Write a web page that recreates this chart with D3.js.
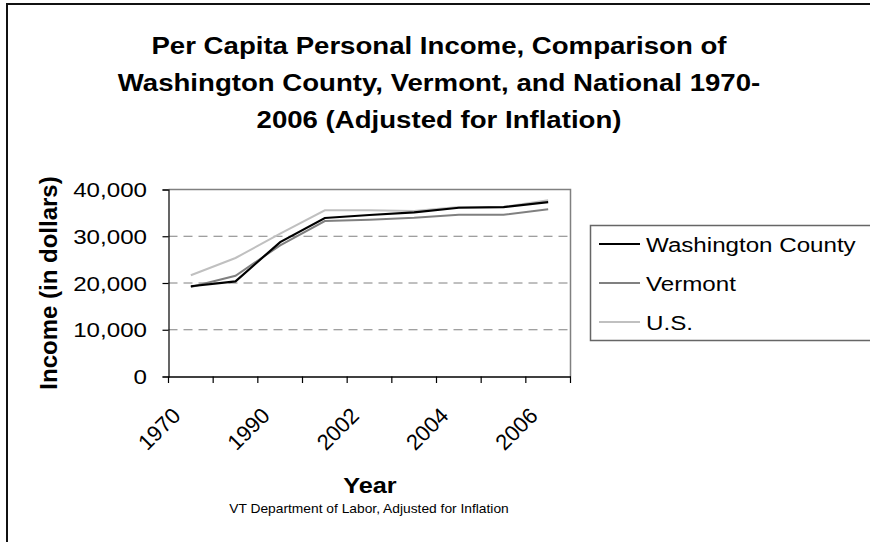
<!DOCTYPE html>
<html>
<head>
<meta charset="utf-8">
<script src="https://cdn.jsdelivr.net/npm/d3@7"></script>
<style>
  html, body { margin: 0; background: #fff; overflow: hidden; }
  svg { display: block; }
  text { font-family: "Liberation Sans", Arial, sans-serif; fill: #000; }
</style>
</head>
<body>
<svg id="chart" width="870" height="542"></svg>
<script>
// Data
var years = ["1970", "1980", "1990", "2000", "2002", "2003", "2004", "2005", "2006"];
var shownYears = ["1970", "1990", "2002", "2004", "2006"];
var washington = [19300, 20350, 28750, 33900, 34550, 35100, 36100, 36250, 37300];
var vermont = [19150, 21550, 28050, 33250, 33550, 33950, 34600, 34600, 35800];
var us = [21650, 25350, 30550, 35550, 35550, 35400, 36250, 36250, 37700];
var seriesNames = ["Washington County", "Vermont", "U.S."];
var seriesColors = ["#000000", "#808080", "#c0c0c0"];
var yTicks = [0, 10000, 20000, 30000, 40000];
var titleLines = ["Per Capita Personal Income, Comparison of",
                  "Washington County, Vermont, and National 1970-",
                  "2006 (Adjusted for Inflation)"];

var SX = 1.15; // the reference text is rendered a bit wide

var svg = d3.select("#chart");

// outer frame: only the top and left edges are inside the picture
svg.append("path")
    .attr("d", "M7,542V4H870")
    .attr("fill", "none")
    .attr("stroke", "#111")
    .attr("stroke-width", 2);

function wideText(g, x, y, str, size, weight, anchor) {
    return g.append("text")
        .attr("transform", "translate(" + x + "," + y + ") scale(" + SX + ",1)")
        .attr("text-anchor", anchor || "middle")
        .style("font-size", size + "px")
        .style("font-weight", weight || "normal")
        .text(str);
}

// title
titleLines.forEach(function(line, i) {
    wideText(svg, 439, 54 + i * 37, line, 24, "bold");
});

var x = d3.scaleBand().domain(years).range([168.5, 570.5]).padding(0);
var y = d3.scaleLinear().domain([0, 40000]).range([376.5, 189.5]);
var cx = function(d) { return x(d) + x.bandwidth() / 2; };

var plot = svg.append("g").attr("class", "plot");

// gridlines
plot.selectAll("line.grid")
    .data(yTicks.filter(function(t) { return t > 0 && t < 40000; }))
    .enter().append("line")
    .attr("class", "grid")
    .attr("x1", 168.5).attr("x2", 570.5)
    .attr("y1", function(d) { return y(d); })
    .attr("y2", function(d) { return y(d); })
    .attr("stroke", "#808080")
    .attr("stroke-width", 1)
    .attr("stroke-dasharray", "9,6");

// plot border, top + right
plot.append("path")
    .attr("d", "M168.5," + y(40000) + "H570.5V" + y(0))
    .attr("fill", "none")
    .attr("stroke", "#808080")
    .attr("stroke-width", 1.5);

// y axis
var yAxis = d3.axisLeft(y).tickValues(yTicks).tickSize(6).tickFormat("");
plot.append("g")
    .attr("transform", "translate(168.5,0)")
    .call(yAxis)
    .call(function(g) { g.selectAll("path, line").attr("stroke", "#000").attr("stroke-width", 1.2); });

yTicks.forEach(function(t) {
    wideText(svg, 147, y(t) + 7.5, d3.format(",")(t), 21, "normal", "end");
});

// x axis, ticks at band edges
var xAxis = d3.axisBottom(x).tickSize(0).tickFormat("");
plot.append("g")
    .attr("transform", "translate(0,376.5)")
    .call(xAxis)
    .call(function(g) { g.select("path").attr("stroke", "#000").attr("stroke-width", 1.5); });

plot.selectAll("line.xtick")
    .data(years.concat(["end"]))
    .enter().append("line")
    .attr("class", "xtick")
    .attr("x1", function(d, i) { return i < years.length ? x(d) : x.range()[1]; })
    .attr("x2", function(d, i) { return i < years.length ? x(d) : x.range()[1]; })
    .attr("y1", 376.5).attr("y2", 383)
    .attr("stroke", "#000")
    .attr("stroke-width", 1.2);

svg.selectAll("text.xlabel")
    .data(shownYears)
    .enter().append("text")
    .attr("class", "xlabel")
    .attr("transform", function(d) {
        return "translate(" + (cx(d) - 9) + ",417) rotate(-45)";
    })
    .attr("text-anchor", "end")
    .style("font-size", "22px")
    .text(function(d) { return d; });

// series lines, lightest first so black is on top
var line = d3.line()
    .x(function(d, i) { return cx(years[i]); })
    .y(function(d) { return y(d); });

var allSeries = [washington, vermont, us];
[2, 1, 0].forEach(function(k) {
    plot.append("path")
        .datum(allSeries[k])
        .attr("d", line)
        .attr("fill", "none")
        .attr("stroke", seriesColors[k])
        .attr("stroke-width", k == 0 ? 2.2 : 2);
});

// axis titles
svg.append("text")
    .attr("transform", "translate(57,283) rotate(-90)")
    .attr("text-anchor", "middle")
    .style("font-size", "24px")
    .style("font-weight", "bold")
    .text("Income (in dollars)");

wideText(svg, 370, 493, "Year", 22, "bold");
wideText(svg, 369, 513, "VT Department of Labor, Adjusted for Inflation", 12);

// legend box runs off the right edge
var legend = svg.append("g").attr("class", "legend");
legend.append("path")
    .attr("d", "M870,225.5H590.5V340.5H870")
    .attr("fill", "#fff")
    .attr("stroke", "#666")
    .attr("stroke-width", 1.5);

seriesNames.forEach(function(name, i) {
    var ry = 244 + i * 39;
    legend.append("line")
        .attr("x1", 599).attr("x2", 640)
        .attr("y1", ry).attr("y2", ry)
        .attr("stroke", seriesColors[i])
        .attr("stroke-width", 2);
    wideText(legend, 646, ry + 7.5, name, 21, "normal", "start");
});
</script>
</body>
</html>
